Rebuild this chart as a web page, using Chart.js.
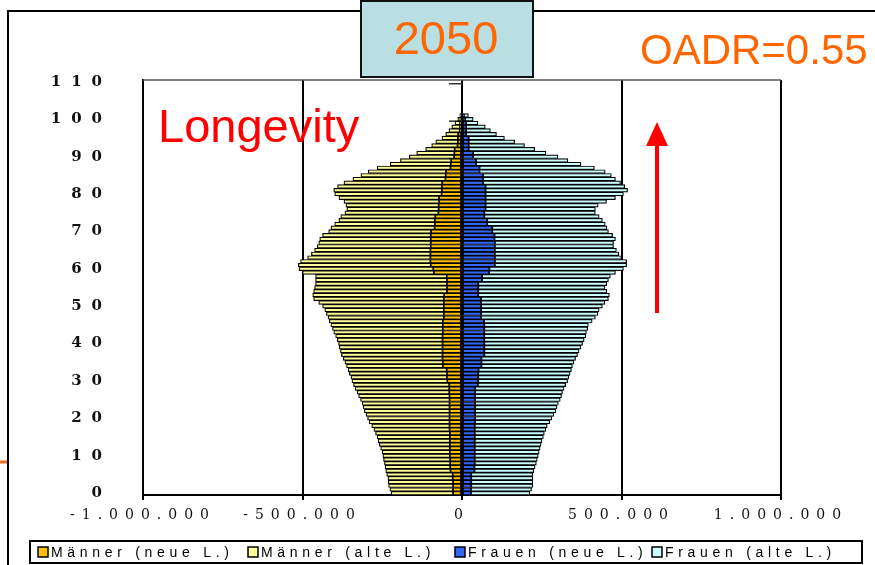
<!DOCTYPE html>
<html>
<head>
<meta charset="utf-8">
<script src="https://cdn.jsdelivr.net/npm/chart.js@4.4.1/dist/chart.umd.min.js"></script>
<style>
  html, body { margin: 0; padding: 0; background: #fff; }
  #wrap { width: 875px; height: 565px; position: relative; }
</style>
</head>
<body>
<div id="wrap"><canvas id="pyramide" width="875" height="565"></canvas></div>
<script>
// Altersjahre 0..110 (Kategorien der Y-Achse)
const alter = Array.from({ length: 111 }, (_, i) => String(i));
const achsenTicks = ['0', '10', '20', '30', '40', '50', '60', '70', '80', '90', '100', '110'];
const xTickLabels = ['-1.000.000', '-500.000', '0', '500.000', '1.000.000'];

// Bevoelkerung 2050 in Tsd., Alter 0..101
const maennerNeue = [
  28, 28, 28, 28, 29, 29, 36, 37, 37, 37,
  38, 38, 38, 38, 38, 38, 38, 39, 39, 39,
  39, 39, 39, 39, 39, 39, 39, 40, 40, 40,
  46, 47, 47, 48, 60, 60, 61, 61, 61, 61,
  61, 61, 61, 60, 60, 60, 60, 57, 57, 57,
  57, 57, 57, 56, 47, 47, 47, 47, 48, 88,
  90, 98, 99, 99, 99, 99, 98, 98, 98, 98,
  97, 86, 85, 85, 84, 74, 73, 73, 72, 72,
  64, 63, 63, 62, 52, 51, 50, 36, 35, 34,
  25, 24, 23, 14, 13, 13, 12, 7, 6, 6,
  5, 3
];
const maennerAlte = [
  194, 198, 202, 203, 203, 207, 203, 204, 206, 209,
  210, 212, 217, 221, 225, 228, 233, 237, 244, 252,
  257, 262, 267, 271, 274, 279, 285, 289, 295, 300,
  299, 301, 306, 309, 302, 307, 311, 317, 320, 324,
  326, 330, 335, 342, 346, 351, 356, 363, 368, 373,
  380, 392, 408, 412, 418, 415, 412, 412, 411, 412,
  421, 415, 407, 385, 373, 363, 356, 351, 348, 339,
  321, 325, 314, 301, 296, 293, 288, 291, 298, 314,
  335, 339, 327, 308, 290, 266, 244, 230, 190, 159,
  140, 118, 91, 81, 69, 50, 39, 34, 26, 16,
  8, 4
];
const frauenNeue = [
  28, 28, 29, 29, 29, 29, 39, 39, 40, 40,
  40, 40, 40, 40, 40, 40, 40, 40, 40, 41,
  41, 41, 41, 41, 41, 41, 41, 41, 41, 50,
  51, 51, 51, 52, 61, 61, 61, 70, 70, 70,
  70, 70, 70, 70, 70, 70, 69, 60, 60, 60,
  60, 60, 60, 51, 51, 51, 51, 63, 63, 85,
  86, 103, 103, 103, 103, 103, 103, 103, 102, 102,
  95, 95, 79, 79, 70, 70, 74, 74, 74, 74,
  74, 74, 74, 66, 66, 66, 55, 55, 44, 44,
  35, 35, 21, 21, 21, 21, 13, 13, 13, 13,
  10, 6
];
const frauenAlte = [
  185, 190, 193, 193, 193, 193, 186, 190, 193, 196,
  199, 202, 205, 208, 211, 215, 218, 223, 227, 234,
  241, 247, 253, 257, 261, 267, 271, 274, 279, 275,
  280, 284, 288, 291, 285, 290, 295, 292, 297, 303,
  308, 313, 318, 320, 324, 326, 339, 358, 366, 370,
  380, 388, 399, 411, 403, 397, 403, 396, 402, 396,
  420, 413, 413, 397, 389, 381, 372, 372, 379, 370,
  364, 359, 370, 361, 360, 348, 344, 353, 379, 407,
  432, 445, 436, 431, 415, 402, 394, 360, 329, 288,
  266, 228, 207, 175, 144, 112, 95, 76, 60, 37,
  25, 14
];

const ORANGE = '#FF6600';

const serieStil = (label, data, farbe) => ({
  label: label,
  data: data,
  backgroundColor: farbe,
  borderColor: '#000',
  borderWidth: 1.2,
  borderSkipped: false,
  barPercentage: 1,
  categoryPercentage: 1
});

// Sperrschrift fuer die Achsenbeschriftungen (wie im Excel-Original)
const sperrung = { x: '7px', y: '10px' };
const sperrPlugin = {
  id: 'sperrung',
  beforeDraw(chart) {
    Object.keys(sperrung).forEach(id => {
      const s = chart.scales[id];
      if (!s || s._gesperrt) return;
      const orig = s.drawLabels.bind(s);
      s.drawLabels = function(area) {
        const ctx = chart.ctx;
        const alt = ctx.letterSpacing;
        ctx.letterSpacing = sperrung[id];
        orig(area);
        ctx.letterSpacing = alt || '0px';
      };
      s._gesperrt = true;
    });
  }
};

// Kategorie-Achse bei x=0 mit Teilstrichen alle 10 Jahre
const mittelAchse = {
  id: 'mittelAchse',
  beforeDatasetsDraw(chart) {
    const { ctx, scales: { x, y } } = chart;
    const x0 = x.getPixelForValue(0);
    const halb = Math.abs(y.getPixelForValue(1) - y.getPixelForValue(0)) / 2;
    ctx.save();
    ctx.strokeStyle = '#333';
    ctx.lineWidth = 1.5;
    for (let a = 10; a <= 110; a += 10) {
      const py = y.getPixelForValue(a) + halb;
      ctx.beginPath();
      ctx.moveTo(x0 - 13, py);
      ctx.lineTo(x0, py);
      ctx.stroke();
    }
    ctx.restore();
  }
};

const deko = {
  id: 'deko',
  afterDraw(chart) {
    const { ctx, chartArea } = chart;
    ctx.save();

    // oberer Rand der Zeichenflaeche
    ctx.strokeStyle = '#555';
    ctx.lineWidth = 1.5;
    ctx.beginPath();
    ctx.moveTo(chartArea.left, chartArea.top);
    ctx.lineTo(chartArea.right, chartArea.top);
    ctx.stroke();

    // Folienrahmen
    ctx.strokeStyle = '#000';
    ctx.lineWidth = 2;
    ctx.beginPath();
    ctx.moveTo(875, 11);
    ctx.lineTo(8, 11);
    ctx.lineTo(8, 565);
    ctx.stroke();

    ctx.strokeStyle = '#F26B1D';
    ctx.lineWidth = 3;
    ctx.beginPath();
    ctx.moveTo(0, 462);
    ctx.lineTo(7, 462);
    ctx.stroke();

    // Jahr-Kasten
    ctx.fillStyle = '#B9DFE2';
    ctx.fillRect(361, 1, 172, 76);
    ctx.strokeStyle = '#111';
    ctx.lineWidth = 2;
    ctx.strokeRect(361, 1, 172, 76);
    ctx.fillStyle = ORANGE;
    ctx.font = '47px "Liberation Sans", Arial, sans-serif';
    ctx.textAlign = 'center';
    ctx.textBaseline = 'middle';
    ctx.fillText('2050', 446, 41);

    ctx.textAlign = 'left';
    ctx.font = '42px "Liberation Sans", Arial, sans-serif';
    ctx.fillText('OADR=0.55', 640, 52);

    ctx.fillStyle = '#FF0000';
    ctx.font = '47px "Liberation Sans", Arial, sans-serif';
    ctx.textBaseline = 'alphabetic';
    ctx.fillText('Longevity', 158, 142);

    // Pfeil
    ctx.strokeStyle = '#FF0000';
    ctx.lineWidth = 4;
    ctx.beginPath();
    ctx.moveTo(657, 313);
    ctx.lineTo(657, 140);
    ctx.stroke();
    ctx.beginPath();
    ctx.moveTo(657, 122);
    ctx.lineTo(668, 146);
    ctx.lineTo(646, 146);
    ctx.closePath();
    ctx.fill();

    // Legende
    ctx.strokeStyle = '#000';
    ctx.lineWidth = 2;
    ctx.strokeRect(30, 541, 832, 22);
    ctx.font = '14px "Liberation Sans", Arial, sans-serif';
    ctx.letterSpacing = '4.7px';
    ctx.textBaseline = 'middle';
    const lx = [38, 248, 455, 652];
    chart.data.datasets.forEach((d, i) => {
      ctx.fillStyle = d.backgroundColor;
      ctx.fillRect(lx[i], 547, 10, 10);
      ctx.lineWidth = 1.5;
      ctx.strokeRect(lx[i], 547, 10, 10);
      ctx.fillStyle = '#000';
      ctx.fillText(d.label, lx[i] + 13, 553);
    });
    ctx.restore();
  }
};

new Chart(document.getElementById('pyramide'), {
  type: 'bar',
  data: {
    labels: alter,
    datasets: [
      serieStil('Männer (neue L.)', maennerNeue.map(v => -v), '#FFC000'),
      serieStil('Männer (alte L.)', maennerAlte.map(v => -v), '#FFFF99'),
      serieStil('Frauen (neue L.)', frauenNeue, '#3366FF'),
      serieStil('Frauen (alte L.)', frauenAlte, '#CCFFFF')
    ]
  },
  options: {
    indexAxis: 'y',
    responsive: false,
    animation: false,
    layout: { padding: { left: 0, right: 94, top: 80, bottom: 0 } },
    plugins: {
      legend: { display: false },
      tooltip: { enabled: false }
    },
    scales: {
      x: {
        stacked: true,
        min: -1000,
        max: 1000,
        afterFit: s => { s.height = 70; },
        grid: { color: '#000', lineWidth: 2, tickLength: 5 },
        border: { color: '#000', width: 2 },
        ticks: {
          stepSize: 500,
          padding: 7,
          maxRotation: 0,
          color: '#111',
          font: { family: '"DejaVu Serif", serif', size: 14 },
          callback: (v, i) => xTickLabels[i]
        }
      },
      y: {
        stacked: true,
        reverse: true,
        afterFit: s => { s.width = 143; },
        grid: { display: false },
        border: { color: '#000', width: 2 },
        ticks: {
          autoSkip: false,
          padding: 23,
          color: '#111',
          font: { family: '"DejaVu Serif", serif', size: 15, weight: 'bold' },
          callback: (v, i) => achsenTicks.includes(alter[i]) ? alter[i] : ''
        }
      }
    }
  },
  plugins: [sperrPlugin, mittelAchse, deko]
});
</script>
</body>
</html>
